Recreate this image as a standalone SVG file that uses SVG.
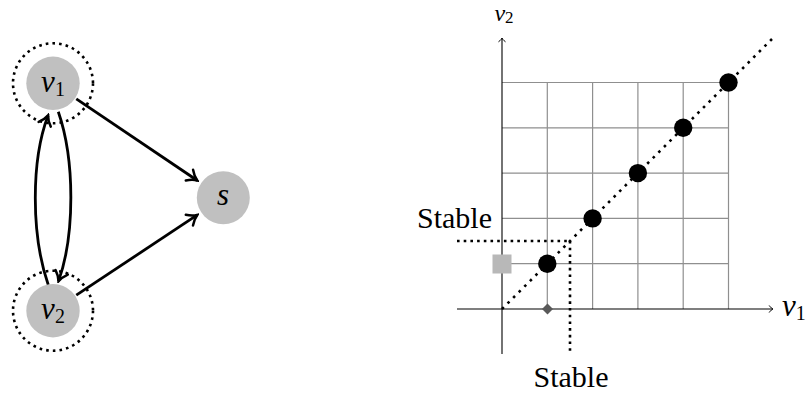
<svg xmlns="http://www.w3.org/2000/svg" width="806" height="393" viewBox="0 0 806 393">
<defs>
<style>
.node{fill:#c0c0c0}
.halo{fill:none;stroke:#000;stroke-width:2.6;stroke-dasharray:2.6 4.1}
.edge{fill:none;stroke:#000;stroke-width:2.8;marker-end:url(#big)}
.math{font-family:"Liberation Serif","Times New Roman",serif;font-style:italic;font-size:31px;fill:#000}
.sub{font-style:normal;font-size:20px}
.lbl{font-family:"Liberation Serif","Times New Roman",serif;font-size:30px;fill:#000}
.grid{stroke:#8f8f8f;stroke-width:1.2;fill:none}
.axis{stroke:#000;stroke-width:1.1;fill:none;marker-end:url(#small)}
.dots{stroke:#000;stroke-width:2.6;fill:none;stroke-dasharray:2.6 4.1}
.ddots{stroke:#000;stroke-width:2.6;fill:none;stroke-dasharray:2.6 5.3}
</style>
<marker id="big" markerUnits="userSpaceOnUse" viewBox="-12 -8 14 16" markerWidth="14" markerHeight="16" refX="0" refY="0" orient="auto">
<path d="M-9.5,-6.5 C-6,-2.8 -2,-0.7 0,0 C-2,0.7 -6,2.8 -9.5,6.5" fill="none" stroke="#000" stroke-width="2.5" stroke-linecap="round"/>
</marker>
<marker id="small" markerUnits="userSpaceOnUse" viewBox="-6 -5 8 10" markerWidth="8" markerHeight="10" refX="0" refY="0" orient="auto">
<path d="M-3.6,-3.2 C-2.3,-1.4 -0.8,-0.3 0,0 C-0.8,0.3 -2.3,1.4 -3.6,3.2" fill="none" stroke="#000" stroke-width="1" stroke-linecap="round"/>
</marker>
</defs>

<g id="connectors">
<path class="edge" d="M76.3,98.9 L197.3,180.5"/>
<path class="edge" d="M76.3,295.2 L197.3,214.9"/>
<path class="edge" d="M58.3,111.7 C75,160 75,235 58.5,281.3"/>
<path class="edge" d="M48.3,285 C31,235 31,160 48.1,115.4"/>
</g>

<g id="v1">
<circle class="halo" cx="53" cy="83.3" r="40"/>
<circle class="node" cx="53" cy="83.3" r="26.7"/>
<text class="math" x="53" y="91.5" text-anchor="middle">v<tspan class="sub" dy="4">1</tspan></text>
</g>
<g id="v2">
<circle class="halo" cx="53" cy="310.7" r="40"/>
<circle class="node" cx="53" cy="310.7" r="26.7"/>
<text class="math" x="53" y="318.5" text-anchor="middle">v<tspan class="sub" dy="4">2</tspan></text>
</g>
<g id="s">
<circle class="node" cx="223.3" cy="197.7" r="26.5"/>
<text class="math" x="223" y="205" text-anchor="middle">s</text>
</g>

<g id="plot">
<g id="grid">
<path class="grid" d="M547.3,82.5V309 M592.6,82.5V309 M637.9,82.5V309 M683.2,82.5V309 M728.5,82.5V309"/>
<path class="grid" d="M502,82.5H728.5 M502,127.8H728.5 M502,173.1H728.5 M502,218.4H728.5 M502,263.7H728.5"/>
</g>
<g id="axes">
<path class="axis" d="M502,354V38"/>
<path class="axis" d="M457,309H773"/>
<text class="math" x="504" y="21.4" text-anchor="middle" style="font-size:24px">v<tspan class="sub" dy="2" style="font-size:17px">2</tspan></text>
<text class="math" x="782" y="316">v<tspan class="sub" dy="4">1</tspan></text>
</g>
<path class="ddots" d="M502,309L773.8,37.2"/>
<path class="dots" d="M457,241H570"/>
<path class="dots" d="M570,241V354"/>
<g id="points">
<circle cx="547.3" cy="263.7" r="9.2"/>
<circle cx="592.6" cy="218.4" r="9.2"/>
<circle cx="637.9" cy="173.1" r="9.2"/>
<circle cx="683.2" cy="127.8" r="9.2"/>
<circle cx="728.5" cy="82.5" r="9.2"/>
</g>
<rect x="492.5" y="254.5" width="19" height="19" fill="#b8b8b8"/>
<path d="M547.5,303.5 L553,309 L547.5,314.5 L542,309 Z" fill="#595959"/>
<text class="lbl" x="492" y="227.5" text-anchor="end">Stable</text>
<text class="lbl" x="571" y="387" text-anchor="middle">Stable</text>
</g>
</svg>
